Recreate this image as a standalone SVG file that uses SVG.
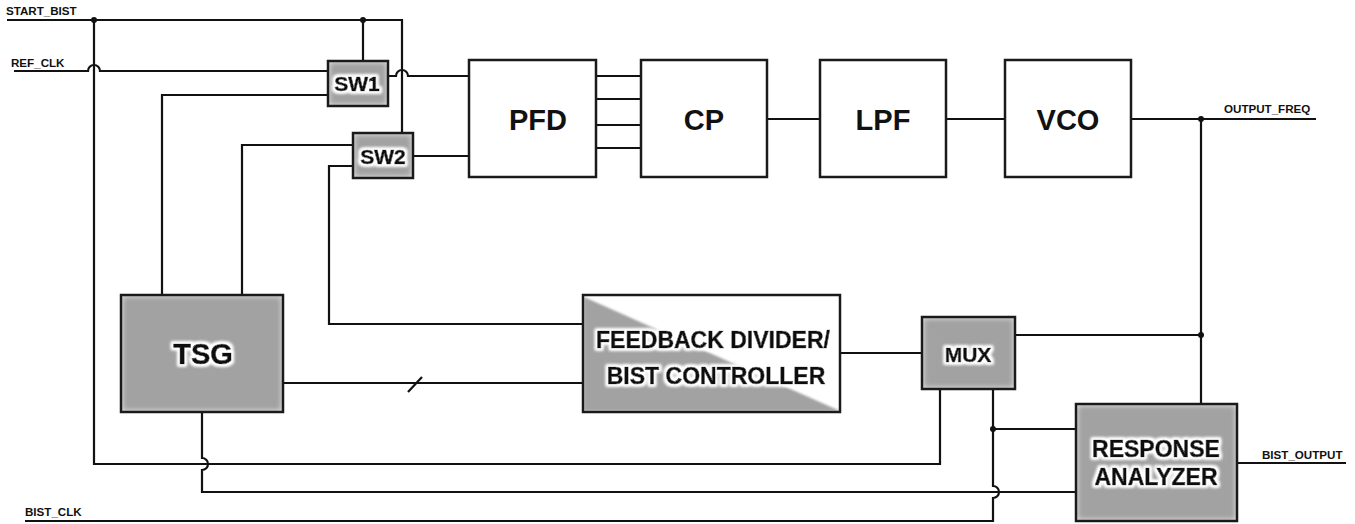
<svg xmlns="http://www.w3.org/2000/svg" width="1355" height="524" viewBox="0 0 1355 524">
<style>
.w{fill:none;stroke:#111;stroke-width:2.2;stroke-linejoin:miter}
.bw{fill:#fff;stroke:#1a1a1a;stroke-width:2.5}
.bg{fill:#a2a2a2}
.bo{fill:none;stroke:#1a1a1a;stroke-width:2.5}
.t{font-family:"Liberation Sans",Arial,sans-serif;font-weight:bold;fill:#111;text-anchor:middle}
.h{stroke:#111;stroke-width:0.7}
.lbl{font-family:"Liberation Sans",Arial,sans-serif;font-weight:bold;fill:#111;font-size:11.6px}
.dot{fill:#111}
</style>
<defs>
<filter id="ig" x="-20%" y="-20%" width="140%" height="140%">
<feFlood flood-color="#ffffff" flood-opacity="0.9" result="f"/>
<feComposite in="f" in2="SourceAlpha" operator="out" result="o"/>
<feGaussianBlur in="o" stdDeviation="3" result="ob"/>
<feComposite in="ob" in2="SourceAlpha" operator="in" result="g"/>
<feMerge><feMergeNode in="SourceGraphic"/><feMergeNode in="g"/></feMerge>
</filter>
<filter id="halo" x="-20%" y="-50%" width="140%" height="200%">
<feMorphology in="SourceAlpha" operator="dilate" radius="1.5" result="d"/>
<feGaussianBlur in="d" stdDeviation="1.5" result="b"/>
<feFlood flood-color="#ffffff"/>
<feComposite in2="b" operator="in" result="wt"/>
<feMerge><feMergeNode in="wt"/><feMergeNode in="wt"/><feMergeNode in="SourceGraphic"/></feMerge>
</filter>
<filter id="soft" x="-5%" y="-5%" width="110%" height="110%">
<feGaussianBlur stdDeviation="1"/>
</filter>
</defs>

<g id="connectors">
<path class="w" d="M7 20 H402 V133"/>
<path class="w" d="M94 20 V464 H940 V389"/>
<path class="w" d="M363 20 V61"/>
<path class="w" d="M14 71 H88 A6 6 0 0 1 100 71 H328"/>
<path class="w" d="M388 76 H396 A6 6 0 0 1 408 76 H469"/>
<path class="w" d="M328 95 H162 V295"/>
<path class="w" d="M353 145 H242 V295"/>
<path class="w" d="M353 166 H329 V324 H583"/>
<path class="w" d="M413 156 H469"/>
<path class="w" d="M596 76 H641 M596 99 H641 M596 125 H641 M596 148 H641"/>
<path class="w" d="M767 119 H820 M946 119 H1005"/>
<path class="w" d="M1131 119 H1316"/>
<path class="w" d="M1201 119 V404"/>
<path class="w" d="M1015 335 H1201"/>
<path class="w" d="M840 353 H922"/>
<path class="w" d="M283 383 H583"/>
<path class="w" d="M408 392 L422 377"/>
<path class="w" d="M202 412 V458 A6 6 0 0 1 202 470 V492 H1076"/>
<path class="w" d="M993 389 V486 A6 6 0 0 1 993 498 V521 H25"/>
<path class="w" d="M993 429 H1076"/>
<path class="w" d="M1237 463 H1346"/>
<circle class="dot" cx="94" cy="20" r="3"/>
<circle class="dot" cx="363" cy="20" r="3"/>
<circle class="dot" cx="1201" cy="119" r="3"/>
<circle class="dot" cx="1201" cy="335" r="3"/>
<circle class="dot" cx="993" cy="429" r="3"/>
</g>

<g id="labels">
<text class="lbl" x="6" y="15">START_BIST</text>
<text class="lbl" x="11" y="67">REF_CLK</text>
<text class="lbl" x="25" y="516">BIST_CLK</text>
<text class="lbl" x="1224" y="113">OUTPUT_FREQ</text>
<text class="lbl" x="1262" y="459">BIST_OUTPUT</text>
</g>

<g id="sw1">
<rect class="bg" x="328" y="61" width="60" height="45" filter="url(#ig)"/>
<rect class="bo" x="328" y="61" width="60" height="45"/>
<text class="t h" x="357" y="91" font-size="21" filter="url(#halo)">SW1</text>
</g>
<g id="sw2">
<rect class="bg" x="353" y="133" width="60" height="45" filter="url(#ig)"/>
<rect class="bo" x="353" y="133" width="60" height="45"/>
<text class="t h" x="383" y="164" font-size="21" filter="url(#halo)">SW2</text>
</g>
<g id="pfd">
<rect class="bw" x="469" y="60" width="127" height="117"/>
<text class="t" x="538" y="130" font-size="29">PFD</text>
</g>
<g id="cp">
<rect class="bw" x="641" y="60" width="126" height="117"/>
<text class="t" x="704" y="130" font-size="29">CP</text>
</g>
<g id="lpf">
<rect class="bw" x="820" y="60" width="126" height="117"/>
<text class="t" x="883" y="130" font-size="29">LPF</text>
</g>
<g id="vco">
<rect class="bw" x="1005" y="60" width="126" height="117"/>
<text class="t" x="1068" y="130" font-size="29">VCO</text>
</g>
<g id="tsg">
<rect class="bg" x="121" y="295" width="162" height="117" filter="url(#ig)"/>
<rect class="bo" x="121" y="295" width="162" height="117"/>
<text class="t h" x="203" y="364" font-size="29" filter="url(#halo)">TSG</text>
</g>
<g id="feedback">
<rect x="583" y="295" width="257" height="117" fill="#fff"/>
<polygon points="584,297 840,411 584,411" fill="#a2a2a2" filter="url(#soft)"/>
<rect class="bo" x="583" y="295" width="257" height="117"/>
<text class="t h" x="713" y="348" font-size="23" filter="url(#halo)">FEEDBACK DIVIDER/</text>
<text class="t h" x="716" y="384" font-size="23" filter="url(#halo)">BIST CONTROLLER</text>
</g>
<g id="mux">
<rect class="bg" x="922" y="317" width="93" height="72" filter="url(#ig)"/>
<rect class="bo" x="922" y="317" width="93" height="72"/>
<text class="t h" x="968" y="362" font-size="21" filter="url(#halo)">MUX</text>
</g>
<g id="ra">
<rect class="bg" x="1076" y="404" width="161" height="117" filter="url(#ig)"/>
<rect class="bo" x="1076" y="404" width="161" height="117"/>
<text class="t h" x="1156" y="457" font-size="23" filter="url(#halo)">RESPONSE</text>
<text class="t h" x="1156" y="485" font-size="23" filter="url(#halo)">ANALYZER</text>
</g>
</svg>
